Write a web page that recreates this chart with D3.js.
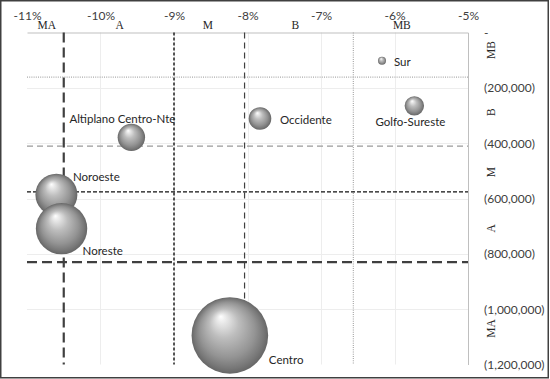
<!DOCTYPE html>
<html>
<head>
<meta charset="utf-8">
<script src="https://cdn.jsdelivr.net/npm/d3@7"></script>
<style>
  html, body { margin: 0; padding: 0; background: #fff; }
  svg { display: block; }
</style>
</head>
<body>
<svg id="chart" width="550" height="379"></svg>
<script>
// Regional bubbles: growth rate (x), absolute change (y), relative weight (bubble area)
const regions = ["Sur", "Golfo-Sureste", "Occidente", "Altiplano Centro-Nte", "Noroeste", "Noreste", "Centro"];
const growthRate = [-0.0617, -0.0573, -0.0783, -0.0958, -0.1060, -0.1053, -0.0824];
const absChange = [-102000, -265000, -311000, -379000, -586000, -709000, -1095000];
const weight = [1.1, 6.4, 8.7, 12.8, 30, 45, 100];

// Axis ticks
const xTicks = [-0.11, -0.10, -0.09, -0.08, -0.07, -0.06, -0.05];
const yTicks = [0, -200000, -400000, -600000, -800000, -1000000, -1200000];

// Classification thresholds (cut points) for each axis
const xCuts = [-0.105, -0.09, -0.0804, -0.0656];
const yCuts = [-161000, -411000, -576000, -830000];

// Class names and where they are written
const xClassNames = ["MA", "A", "M", "B", "MB"];
const xClassAt = [-0.1073, -0.0974, -0.0854, -0.0735, -0.0590];
const yClassNames = ["MB", "B", "M", "A", "MA"];
const yClassAt = [-63000, -288000, -505000, -708000, -1070000];

// ---- layout ----
const W = 550, H = 379;
const plot = { left: 27, right: 468, top: 32.5, bottom: 364.5 };
const sans = "Lato, 'Noto Sans', sans-serif";
const serif = "'Liberation Serif', 'DejaVu Serif', serif";

const x = d3.scaleLinear().domain([-0.11, -0.05]).range([plot.left, plot.right]);
const y = d3.scaleLinear().domain([0, -1200000]).range([plot.top, plot.bottom]);
const r = d3.scaleSqrt().domain([0, 100]).range([0, 38.3]);

const svg = d3.select("#chart");

// sphere shading
const defs = svg.append("defs");
const grad = defs.append("radialGradient")
  .attr("id", "sphere")
  .attr("cx", "50%").attr("cy", "50%").attr("r", "50%")
  .attr("fx", "38%").attr("fy", "25%");
[
  [0.00, "#ffffff"],
  [0.08, "#f0f0f0"],
  [0.38, "#bdbdbd"],
  [0.72, "#949494"],
  [0.90, "#787878"],
  [1.00, "#666666"]
].forEach(([o, c]) => grad.append("stop").attr("offset", o).attr("stop-color", c));

// background
svg.append("rect").attr("width", W).attr("height", H).attr("fill", "#fff");

// gridlines
const grid = svg.append("g").attr("stroke", "#ededed").attr("stroke-width", 1);
grid.selectAll(".gv").data(xTicks.slice(1, -1)).join("line")
  .attr("x1", d => Math.round(x(d)) + 0.5).attr("x2", d => Math.round(x(d)) + 0.5)
  .attr("y1", plot.top).attr("y2", plot.bottom);
grid.selectAll(".gh").data(yTicks.slice(1, -1)).join("line")
  .attr("x1", plot.left).attr("x2", plot.right)
  .attr("y1", d => Math.round(y(d)) + 0.5).attr("y2", d => Math.round(y(d)) + 0.5);

// x axis along the top
const fmtPct = d => Math.round(d * 100) + "%";
const xAxis = svg.append("g")
  .attr("transform", `translate(0,${plot.top})`)
  .call(d3.axisTop(x).tickValues(xTicks).tickFormat(fmtPct).tickSize(0).tickPadding(13));
xAxis.select(".domain").attr("stroke", "#bfbfbf");
xAxis.selectAll("text").attr("font-family", sans).attr("font-size", 12).attr("fill", "#404040");

// y axis on the right
const fmtVal = d => d === 0 ? "-" : "(" + d3.format(",")(Math.abs(d)) + ")";
const yAxis = svg.append("g")
  .attr("transform", `translate(${plot.right},0)`)
  .call(d3.axisRight(y).tickValues(yTicks).tickFormat(fmtVal).tickSize(0).tickPadding(16));
yAxis.select(".domain").attr("stroke", "#bfbfbf");
yAxis.selectAll("text").attr("font-family", sans).attr("font-size", 12).attr("fill", "#404040");

// threshold lines
const xCutStyle = [
  { stroke: "#404040", width: 2.2, dash: "10,5" },
  { stroke: "#111111", width: 1.4, dash: "3,2" },
  { stroke: "#404040", width: 1.2, dash: "6,4" },
  { stroke: "#ababab", width: 1.2, dash: "1,1.2" }
];
const yCutStyle = [
  { stroke: "#ababab", width: 1.2, dash: "1,1.2" },
  { stroke: "#9a9a9a", width: 1.3, dash: "6,4" },
  { stroke: "#111111", width: 1.4, dash: "4,2" },
  { stroke: "#404040", width: 2.2, dash: "10,5" }
];
const cuts = svg.append("g").attr("fill", "none");
cuts.selectAll(".cv").data(xCuts).join("line")
  .attr("x1", d => x(d)).attr("x2", d => x(d))
  .attr("y1", plot.top).attr("y2", plot.bottom)
  .attr("stroke", (d, i) => xCutStyle[i].stroke)
  .attr("stroke-width", (d, i) => xCutStyle[i].width)
  .attr("stroke-dasharray", (d, i) => xCutStyle[i].dash);
cuts.selectAll(".ch").data(yCuts).join("line")
  .attr("x1", plot.left).attr("x2", plot.right)
  .attr("y1", d => y(d)).attr("y2", d => y(d))
  .attr("stroke", (d, i) => yCutStyle[i].stroke)
  .attr("stroke-width", (d, i) => yCutStyle[i].width)
  .attr("stroke-dasharray", (d, i) => yCutStyle[i].dash);

// class names
svg.append("g").selectAll("text").data(xClassNames).join("text")
  .attr("x", (d, i) => x(xClassAt[i]))
  .attr("y", 24.5)
  .attr("dy", "0.35em")
  .attr("text-anchor", "middle")
  .attr("font-family", serif).attr("font-size", 11.5).attr("fill", "#262626")
  .text(d => d);
svg.append("g").selectAll("text").data(yClassNames).join("text")
  .attr("transform", (d, i) => `translate(491,${y(yClassAt[i])}) rotate(-90)`)
  .attr("dy", "0.35em")
  .attr("text-anchor", "middle")
  .attr("font-family", serif).attr("font-size", 11.5).attr("fill", "#262626")
  .text(d => d);

// bubbles
const data = regions.map((name, i) => ({ name, gx: growthRate[i], dy: absChange[i], w: weight[i] }));
svg.append("g").selectAll("circle").data(data).join("circle")
  .attr("cx", d => x(d.gx))
  .attr("cy", d => y(d.dy))
  .attr("r", d => r(d.w))
  .attr("fill", "url(#sphere)");

// bubble labels: offset from bubble centre and anchor
const labelPlace = {
  "Sur": [12, 1, "start"],
  "Golfo-Sureste": [-4, 16, "middle"],
  "Occidente": [20, 1, "start"],
  "Altiplano Centro-Nte": [-9, -18, "middle"],
  "Noroeste": [16.5, -17.5, "start"],
  "Noreste": [21, 22, "start"],
  "Centro": [39, 24.5, "start"]
};
svg.append("g").selectAll("text").data(data).join("text")
  .attr("x", d => x(d.gx) + labelPlace[d.name][0])
  .attr("y", d => y(d.dy) + labelPlace[d.name][1])
  .attr("dy", "0.35em")
  .attr("text-anchor", d => labelPlace[d.name][2])
  .attr("font-family", sans).attr("font-size", 11.5).attr("fill", "#262626")
  .text(d => d.name);

// outer frame
svg.append("rect")
  .attr("x", 0.75).attr("y", 0.75).attr("width", 547.5).attr("height", 377)
  .attr("fill", "none").attr("stroke", "#404040").attr("stroke-width", 1.5);
</script>
</body>
</html>
